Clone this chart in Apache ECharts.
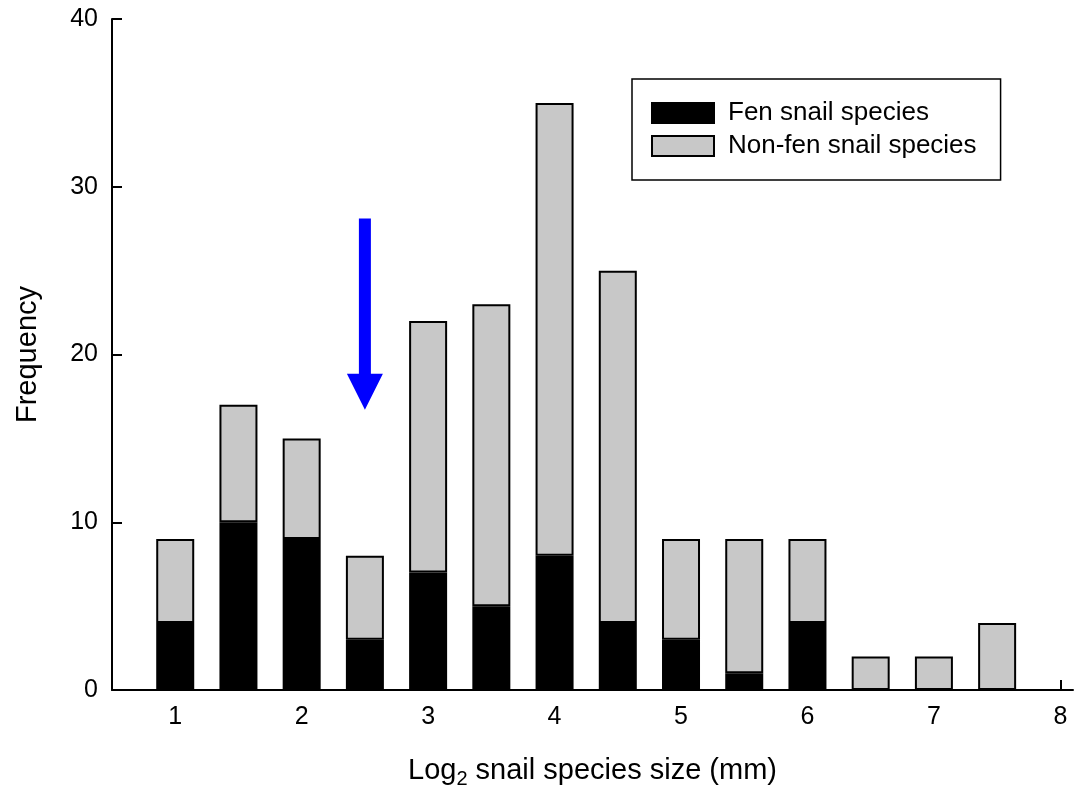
<!DOCTYPE html>
<html>
<head>
<meta charset="utf-8">
<title>Snail species size distribution</title>
<script src="https://cdn.jsdelivr.net/npm/echarts@6/dist/echarts.min.js"></script>
<style>
  html, body { margin: 0; padding: 0; background: #ffffff; }
  #chart { width: 1080px; height: 796px; }
</style>
</head>
<body>
<div id="chart"></div>
<script>
// Bin centres on the log2 size axis
const binCenters = [1, 1.5, 2, 2.5, 3, 3.5, 4, 4.5, 5, 5.5, 6, 6.5, 7, 7.5];
// Species counts per bin
const fenCounts = [4, 10, 9, 3, 7, 5, 8, 4, 3, 1, 4, 0, 0, 0];
const nonFenCounts = [5, 7, 6, 5, 15, 18, 27, 21, 6, 8, 5, 2, 2, 4];
// Tick labels on the x axis
const xTickValues = [1, 2, 3, 4, 5, 6, 7, 8];
// Arrow: x position, tail value, tip value
const arrowMarks = [[2.5, 28.1, 16.7]];

const FONT = "'Liberation Sans', Arial, Helvetica, sans-serif";

const chart = echarts.init(document.getElementById('chart'));

function renderArrow(params, api) {
  const x = api.value(0);
  const tail = api.coord([x, api.value(1)]);
  const tip = api.coord([x, api.value(2)]);
  const shaftHalf = 6, headHalf = 18, headLen = 36;
  const cx = tail[0];
  const baseY = tip[1] - headLen;
  return {
    type: 'polygon',
    shape: {
      points: [
        [cx - shaftHalf, tail[1]], [cx + shaftHalf, tail[1]],
        [cx + shaftHalf, baseY], [cx + headHalf, baseY],
        [cx, tip[1]],
        [cx - headHalf, baseY], [cx - shaftHalf, baseY]
      ]
    },
    style: { fill: '#0000ff' }
  };
}

// Bars are given as [count, binCentre] so the count is the stacked dimension
const fenData = binCenters.map((x, i) => [fenCounts[i], x]);
const nonFenData = binCenters.map((x, i) => [nonFenCounts[i], x]);

const option = {
  backgroundColor: '#ffffff',
  animation: false,
  textStyle: { fontFamily: FONT, color: '#000' },
  grid: { left: 112, right: 7, top: 19, bottom: 106, containLabel: false },
  legend: {
    data: ['Fen snail species', 'Non-fen snail species'],
    orient: 'vertical',
    left: 632,
    top: 79,
    icon: 'rect',
    itemWidth: 62,
    itemHeight: 20,
    itemGap: 7,
    padding: [21, 24, 21, 19],
    borderColor: '#000',
    borderWidth: 1.5,
    selectedMode: false,
    textStyle: { fontFamily: FONT, fontSize: 26, color: '#000', padding: [0, 0, 0, 9] }
  },
  xAxis: {
    type: 'value',
    min: 0.5,
    max: 8.1,
    name: '{m|Log}{s|2}{m| snail species size (mm)}',
    nameLocation: 'middle',
    nameGap: 63,
    nameTextStyle: {
      rich: {
        m: { fontFamily: FONT, fontSize: 29, color: '#000' },
        s: { fontFamily: FONT, fontSize: 20, color: '#000', padding: [16, 0, 0, 0] }
      }
    },
    axisLine: { show: true, onZero: false, lineStyle: { color: '#000', width: 2 } },
    axisTick: { show: true, inside: true, length: 10, customValues: xTickValues, lineStyle: { color: '#000', width: 2 } },
    axisLabel: { customValues: xTickValues, fontFamily: FONT, fontSize: 25, color: '#000', margin: 15 },
    splitLine: { show: false }
  },
  yAxis: {
    type: 'value',
    min: 0,
    max: 40,
    interval: 10,
    name: 'Frequency',
    nameLocation: 'middle',
    nameGap: 70,
    nameTextStyle: { fontFamily: FONT, fontSize: 29, color: '#000' },
    axisLine: { show: true, lineStyle: { color: '#000', width: 2 } },
    axisTick: { show: true, inside: true, length: 10, lineStyle: { color: '#000', width: 2 } },
    axisLabel: { fontFamily: FONT, fontSize: 25, color: '#000', margin: 14 },
    splitLine: { show: false }
  },
  series: [
    {
      name: 'Fen snail species',
      type: 'bar',
      stack: 'total',
      barWidth: 38,
      encode: { x: 1, y: 0 },
      data: fenData,
      itemStyle: { color: '#000000', borderColor: '#000000', borderWidth: 2 }
    },
    {
      name: 'Non-fen snail species',
      type: 'bar',
      stack: 'total',
      barWidth: 38,
      encode: { x: 1, y: 0 },
      data: nonFenData,
      itemStyle: { color: '#c8c8c8', borderColor: '#000000', borderWidth: 2 }
    },
    {
      name: 'arrow',
      type: 'custom',
      silent: true,
      z: 5,
      renderItem: renderArrow,
      encode: { x: 0, y: [1, 2] },
      data: arrowMarks
    }
  ]
};

chart.setOption(option);
</script>
</body>
</html>
